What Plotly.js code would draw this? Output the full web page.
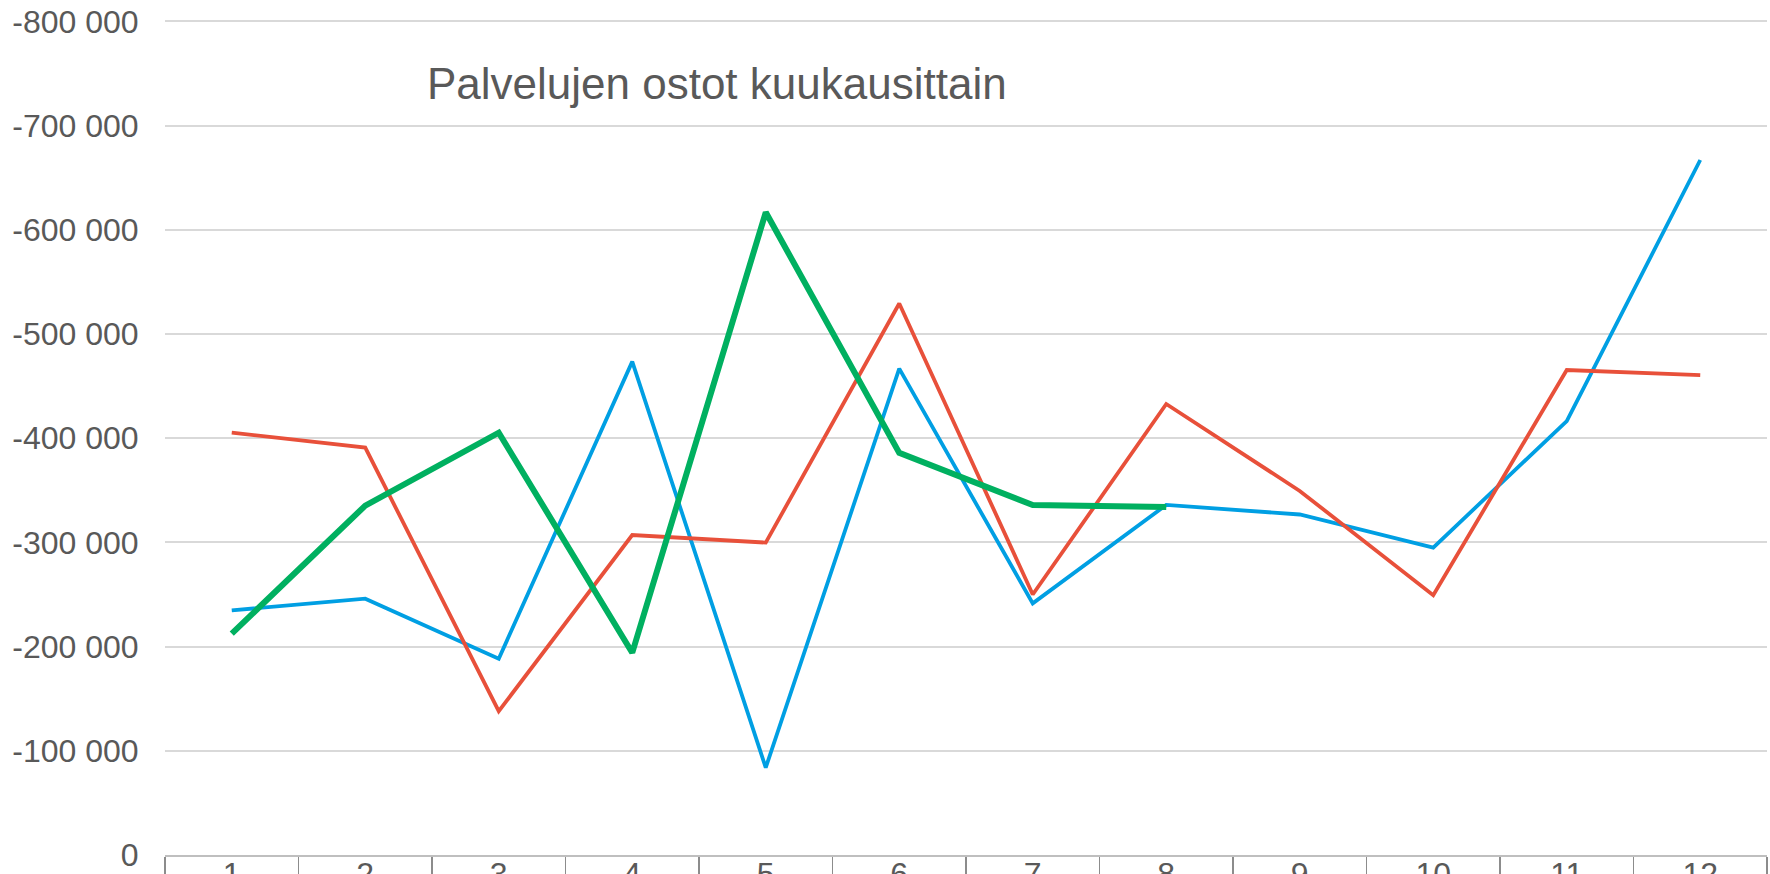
<!DOCTYPE html>
<html>
<head>
<meta charset="utf-8">
<script src="https://cdn.plot.ly/plotly-3.0.1.min.js"></script>
<style>
html, body { margin: 0; padding: 0; overflow: hidden; background: #ffffff; }
#chart { width: 1770px; height: 900px; }
</style>
</head>
<body>
<div id="chart"></div>
<script>
// Months (categories)
const months = ["1", "2", "3", "4", "5", "6", "7", "8", "9", "10", "11", "12"];

// Series values (purchases of services per month, negative)
const seriesBlue  = [-234800, -246000, -188300, -473500, -83800, -466800, -241500, -336000, -326800, -295000, -416500, -667000];
const seriesRed   = [-405300, -391000, -138000, -307100, -299800, -529300, -250000, -432800, -349400, -249300, -465400, -460600];
const seriesGreen = [-212500, -335300, -405300, -194100, -616800, -385900, -335900, -333900, null, null, null, null];

// Y tick values and labels
const yTickVals  = [0, -100000, -200000, -300000, -400000, -500000, -600000, -700000, -800000];
const yTickTexts = ["0", "-100 000", "-200 000", "-300 000", "-400 000", "-500 000", "-600 000", "-700 000", "-800 000"];

const titleText = "Palvelujen ostot kuukausittain";

const font = "Liberation Sans, Arial, sans-serif";
const grey = "#595959";

const traces = [
  { x: months, y: seriesBlue,  name: "Sarja 1", type: "scatter", mode: "lines",
    line: { color: "#009FE3", width: 3.8 } },
  { x: months, y: seriesRed,   name: "Sarja 2", type: "scatter", mode: "lines",
    line: { color: "#E8503A", width: 3.8 } },
  { x: months, y: seriesGreen, name: "Sarja 3", type: "scatter", mode: "lines",
    line: { color: "#00B060", width: 6 }, connectgaps: false }
];

const layout = {
  width: 1770,
  height: 900,
  margin: { l: 165, r: 3, t: 11, b: 45, pad: 0 },
  paper_bgcolor: "#ffffff",
  plot_bgcolor: "#ffffff",
  showlegend: false,
  font: { family: font, color: grey },
  title: {
    text: titleText,
    font: { family: font, size: 44, color: grey },
    xref: "container", yref: "container",
    x: 716.8 / 1770, xanchor: "center",
    y: 1 - 83.5 / 900, yanchor: "middle"
  },
  xaxis: {
    type: "category",
    range: [-0.5, 11.5],
    showgrid: false,
    zeroline: false,
    showline: true,
    linecolor: "#BFBFBF",
    linewidth: 2,
    ticks: "outside",
    tickson: "boundaries",
    ticklen: 30,
    tickwidth: 1.5,
    tickcolor: "#8C8C8C",
    ticklabelstandoff: -10,
    tickfont: { family: font, size: 32, color: grey }
  },
  yaxis: {
    range: [0, -810000],
    tickvals: yTickVals,
    ticktext: yTickTexts,
    showgrid: true,
    gridcolor: "#D9D9D9",
    gridwidth: 2,
    zeroline: false,
    showline: false,
    ticks: "outside",
    ticklen: 19,
    tickcolor: "rgba(0,0,0,0)",
    tickfont: { family: font, size: 32, color: grey }
  }
};

Plotly.newPlot("chart", traces, layout, { displayModeBar: false, staticPlot: true });
</script>
</body>
</html>
